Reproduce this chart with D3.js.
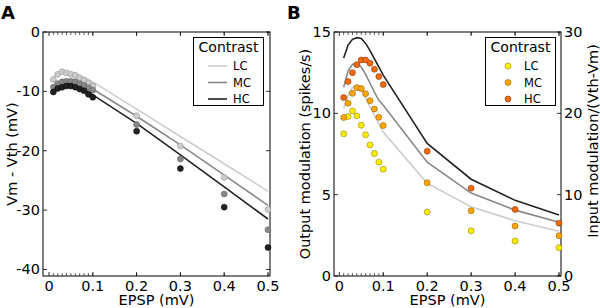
<!DOCTYPE html>
<html>
<head>
<meta charset="utf-8">
<title>EPSP modulation</title>
<script src="https://cdn.jsdelivr.net/npm/d3@7/dist/d3.min.js"></script>
<style>
  body { margin: 0; background: #fff; }
  text { font-family: "DejaVu Sans", sans-serif; }
</style>
</head>
<body>
<script>
// x positions of EPSP amplitude (mV)
var epsp = [0.01,0.02,0.03,0.04,0.05,0.06,0.07,0.08,0.09,0.1,0.2,0.3,0.4,0.5]
var contrasts = ["LC","MC","HC"]

// panel A: Vm - Vth, dots = simulation, lines = theory
var vmDotsLC = [-8.0,-7.1,-6.7,-6.9,-7.1,-7.3,-7.7,-8.1,-8.6,-9.1,-14.1,-19.2,-24.5,-29.9]
var vmDotsMC = [-9.3,-8.7,-8.4,-8.3,-8.3,-8.4,-8.7,-9.0,-9.4,-9.8,-15.6,-21.4,-27.3,-33.3]
var vmDotsHC = [-10.1,-9.5,-9.3,-9.1,-9.1,-9.3,-9.6,-9.9,-10.5,-11.0,-16.7,-23.0,-29.5,-36.3]
var vmLineLC = [-7.6,-7.1,-6.9,-6.9,-7.0,-7.2,-7.4,-7.7,-8.0,-8.4,-13.0,-17.6,-22.2,-26.8]
var vmLineMC = [-9.0,-8.6,-8.4,-8.3,-8.4,-8.5,-8.7,-9.0,-9.3,-9.6,-14.2,-19.0,-24.1,-29.2]
var vmLineHC = [-9.9,-9.5,-9.3,-9.2,-9.2,-9.4,-9.6,-9.9,-10.2,-10.6,-15.4,-20.7,-26.1,-31.5]

// panel B: output modulation (left axis, dots) and input modulation (right axis, lines)
var outLC = [8.74,9.80,10.15,9.84,9.27,8.68,8.06,7.53,7.00,6.57,3.93,2.78,2.15,1.74]
var outMC = [9.74,10.62,11.23,11.58,11.52,11.21,10.78,10.27,9.76,9.25,5.73,4.01,3.07,2.48]
var outHC = [10.97,11.95,12.50,12.99,13.28,13.28,13.08,12.71,12.26,11.77,7.67,5.40,4.09,3.25]
var inLC = [20.6,22.2,23.2,23.3,22.8,21.9,20.8,19.8,18.7,17.7,11.4,8.5,6.8,5.5]
var inMC = [23.2,25.2,26.0,26.2,25.7,24.8,23.7,22.6,21.6,21.0,14.0,10.2,8.1,6.6]
var inHC = [26.8,28.4,29.1,29.3,29.2,28.6,27.7,26.7,25.7,24.7,16.3,11.9,9.3,7.5]

var xTicks = [0,0.1,0.2,0.3,0.4,0.5]
var yTicksA = [0,-10,-20,-30,-40]
var yTicksB = [0,5,10,15]
var yTicksR = [0,10,20,30]

var w = 600, h = 308
var svg = d3.select("body").append("svg").attr("width",w).attr("height",h)

var grays = {LC:"#cccccc", MC:"#888888", HC:"#222222"}
var grayEdge = {LC:"#8a8a8a", MC:"#5a5a5a", HC:"#000000"}
var warm = {LC:"#ffee00", MC:"#ffa600", HC:"#f26a0c"}
var warmEdge = {LC:"#7a6e00", MC:"#7a5000", HC:"#6e2c00"}

var pTop = 32, pBot = 276
var fs = 14.5

function frame(g, x, x0, x1){
    g.append("rect").attr("x",x0).attr("y",pTop).attr("width",x1-x0).attr("height",pBot-pTop)
        .attr("fill","none").attr("stroke","#000").attr("stroke-width",1)
    // x ticks inward, top and bottom
    epsp.forEach(function(d){
        g.append("line").attr("x1",x(d)).attr("x2",x(d)).attr("y1",pBot).attr("y2",pBot-3).attr("stroke","#000").attr("stroke-width",0.6)
        g.append("line").attr("x1",x(d)).attr("x2",x(d)).attr("y1",pTop).attr("y2",pTop+3).attr("stroke","#000").attr("stroke-width",0.6)
    })
    xTicks.forEach(function(d){
        g.append("line").attr("x1",x(d)).attr("x2",x(d)).attr("y1",pBot).attr("y2",pBot-4).attr("stroke","#000").attr("stroke-width",0.8)
        g.append("line").attr("x1",x(d)).attr("x2",x(d)).attr("y1",pTop).attr("y2",pTop+4).attr("stroke","#000").attr("stroke-width",0.8)
        g.append("text").attr("x",x(d)).attr("y",291).attr("text-anchor","middle")
            .attr("font-size",fs).text(d==0 ? "0" : d3.format(".1f")(d))
    })
    g.append("text").attr("x",(x0+x1)/2).attr("y",305).attr("text-anchor","middle")
        .attr("font-size",fs).text("EPSP (mV)")
}

// ---------- panel A ----------
var xA = d3.scaleLinear().domain([-0.0137,0.5046]).range([43,270])
var yA = d3.scaleLinear().domain([-41.1,0]).range([pBot,pTop])
var gA = svg.append("g")
frame(gA, xA, 43, 270)
yTicksA.forEach(function(d){
    gA.append("line").attr("x1",43).attr("x2",47).attr("y1",yA(d)).attr("y2",yA(d)).attr("stroke","#000").attr("stroke-width",0.8)
    gA.append("line").attr("x1",266).attr("x2",270).attr("y1",yA(d)).attr("y2",yA(d)).attr("stroke","#000").attr("stroke-width",0.8)
    gA.append("text").attr("x",40).attr("y",yA(d)+5).attr("text-anchor","end").attr("font-size",fs).text(d)
})
gA.append("text").attr("transform","translate(17,154) rotate(-90)").attr("text-anchor","middle")
    .attr("font-size",fs).text("Vm - Vth (mV)")
gA.append("text").attr("x",1).attr("y",19).attr("font-size",18).attr("font-weight","bold").text("A")

var dotsA = {LC:vmDotsLC, MC:vmDotsMC, HC:vmDotsHC}
var linesA = {LC:vmLineLC, MC:vmLineMC, HC:vmLineHC}
var lineA = d3.line().x(function(d,i){ return xA(epsp[i]) }).y(function(d){ return yA(d) })
svg.append("clipPath").attr("id","clipA").append("rect").attr("x",43).attr("y",pTop).attr("width",227).attr("height",pBot-pTop)
contrasts.forEach(function(c){
    gA.append("path").datum(linesA[c]).attr("d",lineA).attr("fill","none")
        .attr("stroke",grays[c]).attr("stroke-width",1.6).attr("clip-path","url(#clipA)")
})
contrasts.forEach(function(c){
    gA.selectAll(null).data(dotsA[c]).enter().append("circle")
        .attr("cx",function(d,i){ return xA(epsp[i]) }).attr("cy",function(d){ return yA(d) })
        .attr("r",3).attr("fill",grays[c]).attr("stroke",grayEdge[c]).attr("stroke-width",0.5)
})

// legend A
var lgA = gA.append("g")
lgA.append("rect").attr("x",193.5).attr("y",37.5).attr("width",70).attr("height",68).attr("fill","#fff").attr("stroke","#000")
lgA.append("text").attr("x",228.5).attr("y",52).attr("text-anchor","middle").attr("font-size",14).text("Contrast")
contrasts.forEach(function(c,i){
    var yy = 66 + i*16.5
    lgA.append("line").attr("x1",208).attr("x2",227).attr("y1",yy).attr("y2",yy).attr("stroke",grays[c]).attr("stroke-width",1.6)
    lgA.append("text").attr("x",233).attr("y",yy+4).attr("font-size",11.5).text(c)
})

// ---------- panel B ----------
var xB = d3.scaleLinear().domain([-0.012,0.5045]).range([334,561])
var yB = d3.scaleLinear().domain([0,15]).range([pBot,pTop])
var yR = d3.scaleLinear().domain([0,30]).range([pBot,pTop])
var gB = svg.append("g")
frame(gB, xB, 334, 561)
yTicksB.forEach(function(d){
    gB.append("line").attr("x1",334).attr("x2",338).attr("y1",yB(d)).attr("y2",yB(d)).attr("stroke","#000").attr("stroke-width",0.8)
    gB.append("text").attr("x",331).attr("y",yB(d)+5).attr("text-anchor","end").attr("font-size",fs).text(d)
})
yTicksR.forEach(function(d){
    gB.append("line").attr("x1",557).attr("x2",561).attr("y1",yR(d)).attr("y2",yR(d)).attr("stroke","#000").attr("stroke-width",0.8)
    gB.append("text").attr("x",564).attr("y",yR(d)+5).attr("font-size",fs).text(d)
})
gB.append("text").attr("transform","translate(310,154) rotate(-90)").attr("text-anchor","middle")
    .attr("font-size",fs).text("Output modulation (spikes/s)")
gB.append("text").attr("transform","translate(598,141) rotate(-90)").attr("text-anchor","middle")
    .attr("font-size",fs).text("Input modulation/(Vth-Vm)")
gB.append("text").attr("x",287).attr("y",19).attr("font-size",18).attr("font-weight","bold").text("B")

var dotsB = {LC:outLC, MC:outMC, HC:outHC}
var linesB = {LC:inLC, MC:inMC, HC:inHC}
var lineB = d3.line().x(function(d,i){ return xB(epsp[i]) }).y(function(d){ return yR(d) })
contrasts.forEach(function(c){
    gB.append("path").datum(linesB[c]).attr("d",lineB).attr("fill","none")
        .attr("stroke",grays[c]).attr("stroke-width",1.6)
})
contrasts.forEach(function(c){
    gB.selectAll(null).data(dotsB[c]).enter().append("circle")
        .attr("cx",function(d,i){ return xB(epsp[i]) }).attr("cy",function(d){ return yB(d) })
        .attr("r",3).attr("fill",warm[c]).attr("stroke",warmEdge[c]).attr("stroke-width",0.5)
})

// legend B
var lgB = gB.append("g")
lgB.append("rect").attr("x",485.5).attr("y",37.5).attr("width",70).attr("height",68).attr("fill","#fff").attr("stroke","#000")
lgB.append("text").attr("x",520.5).attr("y",52).attr("text-anchor","middle").attr("font-size",14).text("Contrast")
contrasts.forEach(function(c,i){
    var yy = 66 + i*16.5
    lgB.append("circle").attr("cx",508).attr("cy",yy).attr("r",3).attr("fill",warm[c]).attr("stroke",warmEdge[c]).attr("stroke-width",0.5)
    lgB.append("text").attr("x",524).attr("y",yy+4).attr("font-size",11.5).text(c)
})
</script>
</body>
</html>
